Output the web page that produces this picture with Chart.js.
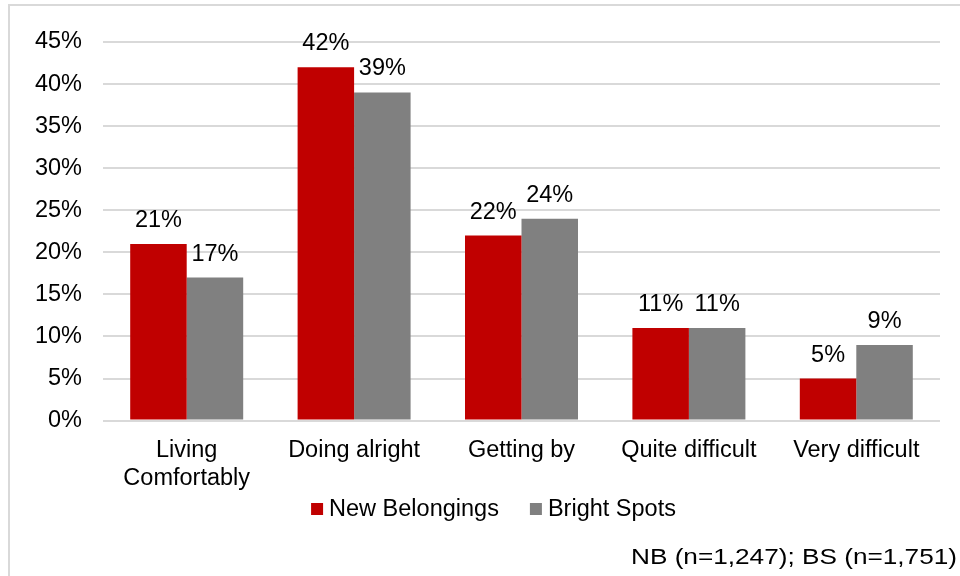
<!DOCTYPE html>
<html lang="en">
<head>
    <meta charset="UTF-8">
    <title>Making ends meet</title>
    <script src="https://cdn.jsdelivr.net/npm/chart.js"></script>
    <style>
        html, body { margin: 0; padding: 0; background: #fff; }
        #wrap { position: relative; width: 960px; height: 576px; overflow: hidden; }
        #frame {
            position: absolute; left: 8px; top: 4px; width: 1000px; height: 700px;
            border-left: 2px solid #d9d9d9; border-top: 2px solid #d9d9d9;
        }
        canvas { position: absolute; left: 0; top: 0; }
    </style>
</head>
<body>
    <div id="wrap">
        <div id="frame"></div>
        <canvas id="chart" width="960" height="576"></canvas>
    </div>

    <script>
        const categories = [["Living", "Comfortably"], "Doing alright", "Getting by", "Quite difficult", "Very difficult"];
        const newBelongings = [21, 42, 22, 11, 5];
        const brightSpots = [17, 39, 24, 11, 9];
        const seriesNames = ["New Belongings", "Bright Spots"];
        const seriesColors = ["#c00000", "#808080"];
        const footnote = "NB (n=1,247); BS (n=1,751)";

        const FONT = "'Liberation Sans', Arial, sans-serif";
        const FONT_SIZE = 23.5;

        // value labels above each bar
        const barLabels = {
            id: "barLabels",
            afterDatasetsDraw(chart) {
                const ctx = chart.ctx;
                ctx.save();
                ctx.font = FONT_SIZE + "px " + FONT;
                ctx.fillStyle = "#000";
                ctx.textAlign = "center";
                ctx.textBaseline = "alphabetic";
                chart.data.datasets.forEach((ds, i) => {
                    chart.getDatasetMeta(i).data.forEach((bar, j) => {
                        ctx.fillText(ds.data[j] + "%", bar.x, bar.y - 17);
                    });
                });
                ctx.restore();
            }
        };

        // legend (Excel style: small square, tight gap) + sample size note
        const extras = {
            id: "extras",
            afterDraw(chart) {
                const ctx = chart.ctx;
                ctx.save();
                ctx.font = FONT_SIZE + "px " + FONT;
                ctx.fillStyle = "#000";
                ctx.textBaseline = "middle";
                const box = 12, gap = 6, spacing = 31, cy = 509;
                const items = chart.data.datasets.map(ds => ({
                    text: ds.label, color: ds.backgroundColor, w: ctx.measureText(ds.label).width
                }));
                let total = items.reduce((s, it) => s + box + gap + it.w, 0) + spacing * (items.length - 1);
                let x = 493.5 - total / 2;
                items.forEach(it => {
                    ctx.fillStyle = it.color;
                    ctx.fillRect(x, cy - box / 2, box, box);
                    ctx.fillStyle = "#000";
                    ctx.textAlign = "left";
                    ctx.fillText(it.text, x + box + gap, cy + 1);
                    x += box + gap + it.w + spacing;
                });

                // the note is set a little wider than tall in the original
                ctx.font = "21.5px " + FONT;
                ctx.textBaseline = "alphabetic";
                ctx.textAlign = "right";
                const w = ctx.measureText(footnote).width;
                ctx.translate(957, 564);
                ctx.scale(326 / w, 1);
                ctx.fillText(footnote, 0, 0);
                ctx.restore();
            }
        };

        new Chart(document.getElementById("chart"), {
            type: "bar",
            data: {
                labels: categories,
                datasets: [
                    { label: seriesNames[0], data: newBelongings, backgroundColor: seriesColors[0] },
                    { label: seriesNames[1], data: brightSpots, backgroundColor: seriesColors[1] }
                ]
            },
            options: {
                responsive: false,
                animation: false,
                datasets: { bar: { barPercentage: 1, categoryPercentage: 0.675 } },
                layout: { padding: { left: 0, right: 20, top: 42, bottom: 75 } },
                plugins: {
                    tooltip: { enabled: false },
                    legend: { display: false }
                },
                scales: {
                    x: {
                        grid: { display: false },
                        border: { display: false },
                        ticks: {
                            color: "#000",
                            font: { family: FONT, size: FONT_SIZE, lineHeight: 1.2 },
                            padding: 8,
                            maxRotation: 0
                        }
                    },
                    y: {
                        min: 0,
                        max: 45,
                        afterFit(scale) { scale.width = 103; },
                        grid: { color: "#d9d9d9", lineWidth: 2, drawTicks: false },
                        border: { display: false },
                        ticks: {
                            stepSize: 5,
                            color: "#000",
                            padding: 21,
                            font: { family: FONT, size: FONT_SIZE },
                            callback: v => v + "%"
                        }
                    }
                }
            },
            plugins: [barLabels, extras]
        });
    </script>
</body>
</html>
